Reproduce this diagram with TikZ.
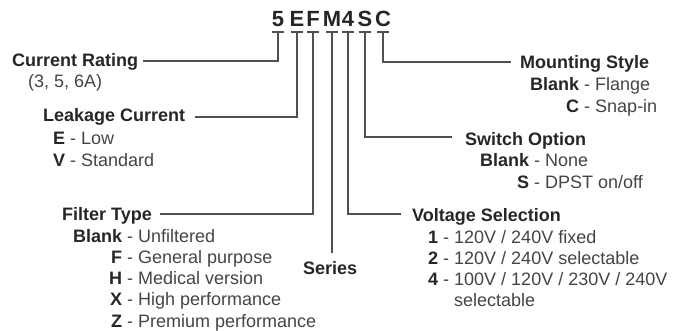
\documentclass[tikz,border=0pt]{standalone}
\usepackage{fontspec}
\setmainfont{Liberation Sans}
\usepackage{array}
\definecolor{txtb}{HTML}{262626}
\definecolor{txtr}{HTML}{444444}
\definecolor{lnc}{HTML}{505050}
\newcolumntype{K}{>{\bfseries\color{txtb}}r}
\newcolumntype{D}{>{\color{txtr}}l}
\begin{document}
\begin{tikzpicture}[x=1pt,y=-1pt,
  codeltr/.style={anchor=base,inner sep=0pt,font=\fontsize{22}{26}\selectfont\bfseries,text=txtb},
  hdr/.style={anchor=base west,inner sep=0pt,font=\fontsize{18}{21.3}\selectfont\bfseries,text=txtb},
  optblock/.style={anchor=base west,inner sep=0pt,font=\fontsize{18}{21.3}\selectfont,text=txtr},
  conn/.style={draw=lnc,line width=1.7pt},
  bar/.style={draw=lnc,line width=1.7pt}]
\useasboundingbox (0,0) rectangle (685,331);
% code letters
\node[codeltr] (l5) at (278,27) {5};
\node[codeltr] (lE) at (297,27) {E};
\node[codeltr] (lF) at (313,27) {F};
\node[codeltr] (lM) at (332,27) {M};
\node[codeltr] (l4) at (348,27) {4};
\node[codeltr] (lS) at (365,27) {S};
\node[codeltr] (lC) at (383,27) {C};
% bar coordinates
\foreach \n/\x in {5/278,E/297,F/313,M/332,4/348,S/365,C/383}{
  \coordinate (b\n) at (\x,32);
  \draw[bar] (\x-6,32) -- (\x+6,32);
}
% headers
\node[hdr] (hCR) at (12,67) {Current Rating};
\node[optblock] (tCR) at (28,88) {(3, 5, 6A)};
\node[hdr] (hLC) at (43,122) {Leakage Current};
\node[optblock] (tLC) at (53,145) {\begin{tabular}[t]{@{}K@{\ -\ }D@{}}E & Low\\ V & Standard\end{tabular}};
\node[hdr] (hFT) at (62,220) {Filter Type};
\node[optblock] (tFT) at (73,242) {\begin{tabular}[t]{@{}K@{\ -\ }D@{}}Blank & Unfiltered\\ F & General purpose\\ H & Medical version\\ X & High performance\\ Z & Premium performance\end{tabular}};
\node[hdr] (hSe) at (303,274) {Series};
\node[hdr] (hVS) at (412,222) {Voltage Selection};
\node[optblock] (tVS) at (428,243) {\begin{tabular}[t]{@{}K@{\ -\ }D@{}}1 & 120V / 240V fixed\\ 2 & 120V / 240V selectable\\ 4 & 100V / 120V / 230V / 240V\\ \multicolumn{1}{@{}r@{\ \ \ \ }}{} & selectable\end{tabular}};
\node[hdr] (hSO) at (465,146) {Switch Option};
\node[optblock] (tSO) at (480,167) {\begin{tabular}[t]{@{}K@{\ -\ }D@{}}Blank & None\\ S & DPST on/off\end{tabular}};
\node[hdr] (hMS) at (520,69) {Mounting Style};
\node[optblock] (tMS) at (530,91) {\begin{tabular}[t]{@{}K@{\ -\ }D@{}}Blank & Flange\\ C & Snap-in\end{tabular}};
% connector ends
\coordinate (e5) at (143,61);
\coordinate (eE) at (195,117);
\coordinate (eF) at (160,214);
\coordinate (eM) at (332,253);
\coordinate (e4) at (401,214);
\coordinate (eS) at (452,137);
\coordinate (eC) at (511,62);
\draw[conn] (b5) |- (e5);
\draw[conn] (bE) |- (eE);
\draw[conn] (bF) |- (eF);
\draw[conn] (bM) -- (eM);
\draw[conn] (b4) |- (e4);
\draw[conn] (bS) |- (eS);
\draw[conn] (bC) |- (eC);
\end{tikzpicture}
\end{document}
